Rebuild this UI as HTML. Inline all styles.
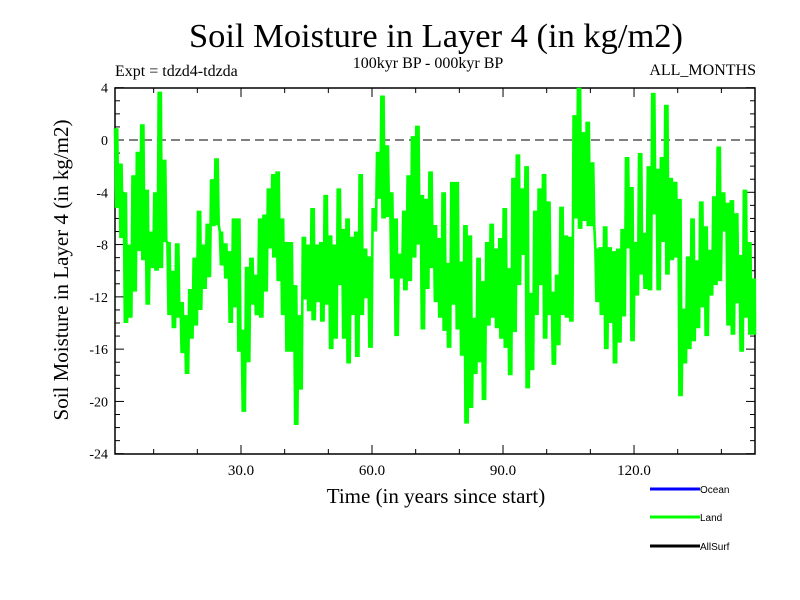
<!DOCTYPE html>
<html><head><meta charset="utf-8"><style>
body{margin:0;background:#fff;}
svg{display:block;font-family:"Liberation Serif",serif;}
</style></head><body>
<svg id="chart" width="800" height="600" viewBox="0 0 800 600" xmlns="http://www.w3.org/2000/svg">
<rect width="800" height="600" fill="#fff"/>
<text x="436" y="47" font-size="34" text-anchor="middle" textLength="494" lengthAdjust="spacingAndGlyphs">Soil Moisture in Layer 4 (in kg/m2)</text>
<text x="115" y="76" font-size="16">Expt = tdzd4-tdzda</text>
<text x="428" y="68" font-size="16" text-anchor="middle">100kyr BP - 000kyr BP</text>
<text x="756" y="75" font-size="16" text-anchor="end">ALL_MONTHS</text>
<text transform="translate(68,270) rotate(-90)" font-size="21" text-anchor="middle">Soil Moisture in Layer 4 (in kg/m2)</text>
<text x="436" y="503" font-size="21" text-anchor="middle">Time (in years since start)</text>
<g id="axes"></g>
<g id="series"></g>
<g font-family="Liberation Sans, sans-serif" font-size="10">
<line x1="650" y1="489" x2="700" y2="489" stroke="#0000ff" stroke-width="3"/>
<text x="700" y="493">Ocean</text>
<line x1="650" y1="517" x2="700" y2="517" stroke="#00ff00" stroke-width="3"/>
<text x="700" y="521">Land</text>
<line x1="650" y1="546" x2="700" y2="546" stroke="#000" stroke-width="3"/>
<text x="700" y="550">AllSurf</text>
</g>
</svg>
<script>
const yTicks=[-24,-20,-16,-12,-8,-4,0,4];
const xTicks=[30,60,90,120];
const xTickLabels=["30.0","60.0","90.0","120.0"];
const yearHigh=[0.9,-1.8,-4,-8,-2.7,-0.9,1.2,-3.8,-7,-4,3.7,-1.5,-7.8,-10,-7.9,-12.4,-13.4,-11.4,-9,-5.4,-8,-6.4,-3,-1.4,-7,-7.9,-8.5,-6,-6,-14.5,-9.7,-9,-10.3,-6,-5.7,-3.7,-2.6,-2.4,-6,-7.8,-7.8,-11.1,-13.4,-7.4,-8,-5.2,-8,-7.8,-4.2,-7.3,-8,-3.7,-6.8,-6,-7.4,-7,-2.6,-8.3,-8.9,-5.2,-0.9,3.4,-0.4,-4,-6,-8.7,-5.4,-2.7,0.3,1.1,-4.2,-4.5,-2.4,-6.5,-7.5,-4,-9.4,-3.2,-3.2,-9.3,-6.5,-7.3,-13.6,-9,-10.8,-7.8,-6.4,-8.3,-7.5,-5.2,-9.8,-2.9,-1.1,-3.7,-2,-11.7,-5.4,-3.7,-2.6,-4.7,-11.6,-10.3,-5.1,-7.3,-7.4,1.9,4,0.6,1.4,-1.7,-8.3,-8.2,-6.6,-8.2,-8.5,-8.3,-6.8,-1.3,-3.6,-7.8,-1,-7.1,-2,3.6,-2.2,-1.3,2.7,-2.9,-3.2,-4.5,-12.9,-8.9,-6,-9.2,-4.7,-6.6,-8.4,-4.3,-0.5,-4,-4.8,-4.6,-5.6,-8.8,-3.8,-7.8,-10.6];
const yearLow=[-5.2,-7.5,-14,-13.6,-11.6,-8.5,-9.2,-12.6,-9.8,-10,-9.8,-7.8,-13.4,-14.4,-13.6,-16.3,-17.9,-15.2,-14.2,-13,-11.4,-10.5,-6.6,-6.5,-9.6,-10.6,-14,-12.8,-16.2,-20.8,-17,-12.6,-13.4,-13.6,-11.6,-8.3,-9,-10.8,-13.4,-16.2,-16.2,-21.8,-19.1,-12.2,-13.1,-13.8,-12.4,-13.9,-12.6,-16,-15.2,-11.1,-15.2,-17.1,-13.4,-16.6,-13.4,-12.1,-15.9,-7,-4.5,-6,-5.9,-10.6,-15,-10.6,-11.5,-10.8,-9,-8,-14.5,-11.4,-9.8,-12.4,-13.6,-14.6,-15.9,-12.6,-14.5,-16.5,-21.7,-20.5,-17.9,-17,-19.9,-14.2,-13.6,-14.4,-15.2,-15.9,-18,-14.7,-11.1,-8.8,-19,-17.6,-13.4,-11.1,-15.2,-13.4,-17.2,-15.7,-13.4,-13.6,-13.9,-6,-6.8,-6.2,-6.6,-6.6,-12.4,-13.4,-16,-14,-17.1,-15.5,-13.5,-8.3,-15.4,-11.9,-10.3,-11.4,-11.5,-5.7,-11.5,-7.8,-10.3,-9.2,-9,-19.6,-17.1,-16,-15.4,-14.4,-12.8,-15,-11.9,-11.1,-10.8,-7,-14.2,-14.9,-12.5,-16.2,-13.6,-14.9,-14.9];
const NS="http://www.w3.org/2000/svg";
const X0=115,X1=755,Y0=88,Y1=454;
function xs(t){return 241+(t-30)*4.367;}
function ys(v){return 140-v*(366/28);}
function mk(tag,attrs,parent){const e=document.createElementNS(NS,tag);for(const k in attrs)e.setAttribute(k,attrs[k]);parent.appendChild(e);return e;}
const axes=document.getElementById('axes');
const series=document.getElementById('series');
const z=mk('line',{x1:X0,x2:X1,y1:ys(0),y2:ys(0),stroke:'#000','stroke-width':1,'stroke-dasharray':'9,5','shape-rendering':'crispEdges'},axes);


let pts=[];
function cx(t){return Math.max(X0,Math.min(X1,xs(t)));}
for(let i=0;i<yearHigh.length;i++){
  const t=1.15+i;
  pts.push(cx(t)+','+ys(yearHigh[i]));
  pts.push(cx(t+0.25)+','+ys(yearLow[i]));
  pts.push(cx(t+0.5)+','+ys(yearHigh[i]));
  pts.push(cx(t+0.75)+','+ys(yearLow[i]));
}
const pl=mk('polyline',{points:pts.join(' '),fill:'none',stroke:'#00ff00','stroke-width':2.6,'stroke-linejoin':'bevel'},series);


const fr=mk('rect',{x:X0,y:Y0,width:X1-X0,height:Y1-Y0,fill:'none',stroke:'#000','stroke-width':1.5},axes);


for(let v=-24;v<=4;v++){
  const y=ys(v);const major=(v%4===0);
  const l1=mk('line',{x1:X0,x2:X0+(major?9:5),y1:y,y2:y,stroke:'#000','stroke-width':1},axes);
  
  
  const l2=mk('line',{x1:X1,x2:X1-(major?9:5),y1:y,y2:y,stroke:'#000','stroke-width':1},axes);
  
  
}
yTicks.forEach(v=>{
  const t=mk('text',{x:X0-7,y:ys(v)+5,'font-size':14,'text-anchor':'end'},axes);
  t.textContent=String(v);
  
  
});
for(let v=10;v<=140;v+=10){
  const x=xs(v);const major=(v%30===0);
  const b=mk('line',{x1:x,x2:x,y1:Y1,y2:Y1-(major?9:5),stroke:'#000','stroke-width':1},axes);
  
  
  const tp=mk('line',{x1:x,x2:x,y1:Y0,y2:Y0+(major?9:5),stroke:'#000','stroke-width':1},axes);
  
  
}
xTicks.forEach((v,i)=>{
  const t=mk('text',{x:xs(v),y:Y1+21,'font-size':15,'text-anchor':'middle'},axes);
  t.textContent=xTickLabels[i];
  
  
});
</script>
</body></html>
